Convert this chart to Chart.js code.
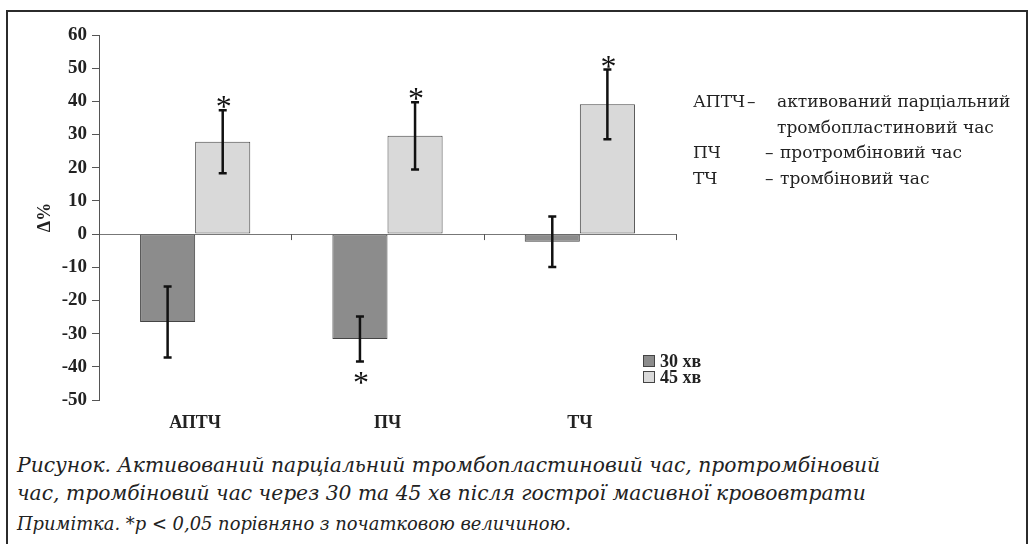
<!DOCTYPE html>
<html>
<head>
<meta charset="utf-8">
<script src="https://cdn.jsdelivr.net/npm/chart.js@4"></script>
<style>
  html, body { margin: 0; padding: 0; background: #fff; }
  body { width: 1028px; height: 544px; overflow: hidden; position: relative; }
  #frame { position: absolute; left: 6px; top: 10px; width: 1022px; height: 600px;
           border: 2px solid #2b2b2b; box-sizing: border-box; }
  #chart { position: absolute; left: 0; top: 0; }
  #legend { position: absolute; left: 643px; top: 353px; font: bold 18px "Liberation Serif", serif; color: #222; }
  #legend div { height: 16px; line-height: 16px; display: flex; align-items: center; }
  #legend span.box { display: inline-block; width: 10px; height: 10px; border: 1px solid #444; margin-right: 5px; }
  #defs { position: absolute; left: 693px; top: 89px; font: 17px "DejaVu Serif", serif; color: #222; }
  #defs .row { height: 25.5px; line-height: 25.5px; white-space: nowrap; }
  #defs .ab { display: inline-block; width: 54px; }
  #defs .ds { display: inline-block; width: 30px; }
  #defs .ds2 { display: inline-block; width: 15px; padding-left: 72px; }
  #caption { position: absolute; left: 17px; top: 451px; font: italic 20.3px "DejaVu Serif", serif; color: #222; line-height: 28px; white-space: nowrap; }
  #note { position: absolute; left: 17px; top: 513px; font: italic 17.9px "DejaVu Serif", serif; color: #222; white-space: nowrap; }
</style>
</head>
<body>
<div id="frame"></div>
<canvas id="chart" width="700" height="440"></canvas>
<div id="legend"></div>
<div id="defs">
  <div class="row"><span class="ab">АПТЧ</span><span class="ds">–</span>активований парціальний</div>
  <div class="row"><span class="ab"></span><span class="ds"></span>тромбопластиновий час</div>
  <div class="row"><span style="position:absolute;left:0">ПЧ</span><span class="ds2">–</span>протромбіновий час</div>
  <div class="row"><span style="position:absolute;left:0">ТЧ</span><span class="ds2">–</span>тромбіновий час</div>
</div>
<div id="caption">Рисунок. Активований парціальний тромбопластиновий час, протромбіновий<br>час, тромбіновий час через 30 та 45 хв після гострої масивної крововтрати</div>
<div id="note">Примітка. *р &lt; 0,05 порівняно з початковою величиною.</div>
<script>
const categories = ['АПТЧ', 'ПЧ', 'ТЧ'];
const seriesLabels = ['30 хв', '45 хв'];
const values30 = [-26.5, -31.6, -2.3];
const values45 = [27.8, 29.6, 39.1];
const errors30 = [10.7, 6.8, 7.6];
const errors45 = [9.5, 10.1, 10.5];
const signif30 = [false, true, false];
const signif45 = [true, true, true];
const yTicks = { min: -50, max: 60, step: 10 };

const colors = ['#8c8c8c', '#d9d9d9'];

// error bars + asterisks
const errorBarPlugin = {
  id: 'errorBars',
  afterDatasetsDraw(chart) {
    const { ctx, scales: { y } } = chart;
    const errs = [errors30, errors45];
    const sig = [signif30, signif45];
    ctx.save();
    chart.data.datasets.forEach((ds, di) => {
      const meta = chart.getDatasetMeta(di);
      meta.data.forEach((bar, i) => {
        const v = ds.data[i], e = errs[di][i];
        const top = y.getPixelForValue(v + e);
        const bot = y.getPixelForValue(v - e);
        const x = bar.x;
        ctx.strokeStyle = '#111';
        ctx.lineWidth = 2.5;
        ctx.beginPath();
        ctx.moveTo(x, top); ctx.lineTo(x, bot);
        ctx.moveTo(x - 4, top); ctx.lineTo(x + 4, top);
        ctx.moveTo(x - 4, bot); ctx.lineTo(x + 4, bot);
        ctx.stroke();
        if (sig[di][i]) {
          ctx.fillStyle = '#111';
          ctx.font = '32px "Liberation Serif", serif';
          ctx.textAlign = 'center';
          ctx.textBaseline = 'alphabetic';
          if (v >= 0) ctx.fillText('*', x + 1, top + 7);
          else ctx.fillText('*', x + 1, bot + 31);
        }
      });
    });
    ctx.restore();
  }
};

// small ticks under the zero line at category boundaries
const zeroTicksPlugin = {
  id: 'zeroTicks',
  afterDraw(chart) {
    const { ctx, scales: { x, y } } = chart;
    const y0 = y.getPixelForValue(0);
    ctx.save();
    ctx.strokeStyle = '#555';
    ctx.lineWidth = 1;
    ctx.beginPath();
    for (let i = 0; i < categories.length; i++) {
      const right = i < categories.length - 1
        ? (x.getPixelForValue(i) + x.getPixelForValue(i + 1)) / 2
        : chart.chartArea.right;
      ctx.moveTo(Math.round(right) + 0.5, y0);
      ctx.lineTo(Math.round(right) + 0.5, y0 + 6);
    }
    ctx.stroke();
    ctx.restore();
  }
};

const chart = new Chart(document.getElementById('chart'), {
  type: 'bar',
  data: {
    labels: categories,
    datasets: [
      { label: seriesLabels[0], data: values30, backgroundColor: colors[0], borderColor: '#444', borderWidth: 1, borderSkipped: false },
      { label: seriesLabels[1], data: values45, backgroundColor: colors[1], borderColor: '#444', borderWidth: 1, borderSkipped: false }
    ]
  },
  options: {
    responsive: false,
    animation: false,
    categoryPercentage: 0.573,
    barPercentage: 1,
    layout: { padding: { left: 35, top: 35, right: 24, bottom: 0 } },
    plugins: { legend: { display: false }, tooltip: { enabled: false } },
    scales: {
      x: {
        grid: { display: false, drawTicks: false },
        border: { display: false },
        ticks: { color: '#222', padding: 13, font: { family: '"Liberation Serif", serif', size: 18, weight: 'bold' } },
        afterFit: s => { s.height = 40; }
      },
      y: {
        min: yTicks.min, max: yTicks.max,
        ticks: { stepSize: yTicks.step, color: '#222', padding: 5, font: { family: '"Liberation Serif", serif', size: 19, weight: 'bold' } },
        grid: { color: c => c.tick && c.tick.value === 0 ? '#777' : 'rgba(0,0,0,0)', tickColor: '#555', tickLength: 7, lineWidth: 1 },
        border: { color: '#555', width: 1 },
        title: { display: true, text: 'Δ%', color: '#222', padding: 0, font: { family: '"Liberation Serif", serif', size: 18, weight: 'bold' } },
        afterFit: s => { s.width = 64; }
      }
    }
  },
  plugins: [errorBarPlugin, zeroTicksPlugin]
});

// legend for the two series
document.getElementById('legend').innerHTML = chart.data.datasets.map(ds =>
  `<div><span class="box" style="background:${ds.backgroundColor};"></span>${ds.label}</div>`
).join('');
</script>
</body>
</html>
